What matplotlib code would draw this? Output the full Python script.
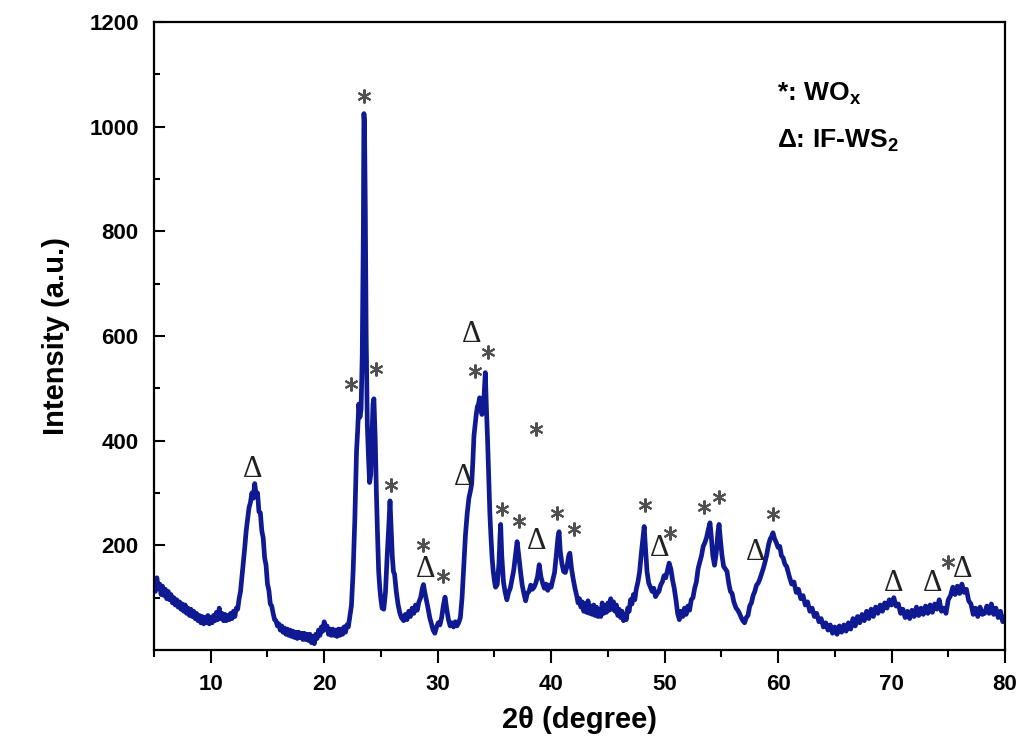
import matplotlib
matplotlib.use("Agg")
import matplotlib.pyplot as plt
from matplotlib.ticker import MultipleLocator, FixedLocator

# XRD scan, region by region: (2theta in degree, intensity in a.u.)
scan_05_13 = [
    (5.0, 130), (5.125, 112), (5.25, 138), (5.375, 118), (5.5, 126), (5.625, 106), (5.75, 122),
    (5.875, 104), (6.0, 116), (6.125, 98), (6.25, 112), (6.375, 96), (6.5, 106), (6.625, 90),
    (6.75, 100), (6.875, 86), (7.0, 96), (7.125, 82), (7.25, 92), (7.375, 78), (7.5, 88),
    (7.625, 74), (7.75, 86), (7.875, 70), (8.0, 80), (8.125, 66), (8.25, 78), (8.375, 64),
    (8.5, 74), (8.625, 60), (8.75, 70), (8.875, 56), (9.0, 66), (9.125, 52), (9.25, 64),
    (9.375, 50), (9.5, 62), (9.625, 52), (9.75, 66), (9.875, 50), (10.0, 62), (10.125, 52),
    (10.25, 66), (10.375, 56), (10.5, 72), (10.625, 58), (10.75, 80), (10.875, 60), (11.0, 70),
    (11.125, 56), (11.25, 68), (11.375, 56), (11.5, 66), (11.625, 58), (11.75, 70), (11.875, 60),
    (12.0, 74), (12.125, 64), (12.25, 80), (12.375, 78), (12.5, 98),
]
scan_13_16 = [
    (12.625, 112), (12.75, 140), (12.875, 168), (13.0, 196), (13.125, 228), (13.25, 250),
    (13.375, 272), (13.5, 282), (13.625, 300), (13.75, 290), (13.875, 318), (14.0, 296),
    (14.125, 300), (14.25, 264), (14.375, 262), (14.5, 228), (14.625, 214), (14.75, 176),
    (14.875, 162), (15.0, 126), (15.125, 114), (15.25, 88), (15.375, 84),
]
scan_16_22 = [
    (15.5, 70), (15.625, 58), (15.75, 56), (15.875, 46), (16.0, 50), (16.125, 38), (16.25, 46),
    (16.375, 34), (16.5, 42), (16.625, 30), (16.75, 40), (16.875, 28), (17.0, 38), (17.125, 26),
    (17.25, 36), (17.375, 24), (17.5, 34), (17.625, 22), (17.75, 34), (17.875, 24), (18.0, 32),
    (18.125, 20), (18.25, 32), (18.375, 20), (18.5, 30), (18.625, 18), (18.75, 30), (18.875, 14),
    (19.0, 26), (19.125, 12), (19.25, 30), (19.375, 22), (19.5, 38), (19.625, 28), (19.75, 44),
    (19.875, 36), (20.0, 54), (20.125, 40), (20.25, 46), (20.375, 30), (20.5, 40), (20.625, 28),
    (20.75, 40), (20.875, 28), (21.0, 38), (21.125, 26), (21.25, 40), (21.375, 28), (21.5, 40),
    (21.625, 30), (21.75, 44), (21.875, 34), (22.0, 48), (22.125, 44), (22.25, 62),
]
scan_22_27 = [
    (22.4, 85), (22.55, 150), (22.7, 250), (22.85, 380), (22.95, 420), (23.05, 470), (23.15, 445),
    (23.25, 460), (23.35, 560), (23.45, 800), (23.5, 1025), (23.55, 1010), (23.62, 850),
    (23.7, 600), (23.8, 430), (23.9, 370), (24.0, 320), (24.1, 335), (24.2, 400), (24.3, 470),
    (24.38, 480), (24.5, 400), (24.6, 300), (24.7, 220), (24.8, 150), (24.9, 118), (25.0, 96),
    (25.1, 80), (25.25, 78), (25.4, 110), (25.55, 180), (25.7, 240), (25.8, 285), (25.9, 230),
    (26.0, 180), (26.1, 150), (26.2, 145), (26.35, 112), (26.5, 88), (26.65, 72), (26.8, 62),
]
scan_27_42 = [
    (27.0, 56), (27.15, 68), (27.3, 58), (27.45, 74), (27.6, 64), (27.75, 80), (27.9, 70),
    (28.05, 86), (28.2, 76), (28.35, 92), (28.5, 100), (28.65, 118), (28.75, 125), (28.85, 112),
    (29.0, 96), (29.15, 80), (29.3, 62), (29.45, 50), (29.6, 38), (29.75, 32), (29.9, 44),
    (30.05, 52), (30.2, 48), (30.35, 62), (30.5, 85), (30.65, 101), (30.8, 78), (30.95, 58),
    (31.1, 46), (31.25, 52), (31.4, 44), (31.55, 54), (31.7, 46), (31.85, 52), (32.0, 62),
    (32.15, 100), (32.3, 160), (32.45, 220), (32.6, 260), (32.75, 290), (32.9, 305), (33.0, 318),
    (33.1, 360), (33.2, 410), (33.3, 430), (33.4, 450), (33.5, 465), (33.6, 470), (33.7, 482),
    (33.8, 460), (33.9, 450), (34.0, 455), (34.1, 490), (34.2, 530), (34.3, 460), (34.4, 400),
    (34.5, 330), (34.6, 260), (34.7, 215), (34.8, 175), (34.9, 150), (35.0, 132), (35.1, 120),
    (35.25, 125), (35.4, 165), (35.5, 220), (35.55, 240), (35.65, 180), (35.8, 130), (35.95, 110),
    (36.1, 96), (36.25, 110), (36.4, 118), (36.55, 135), (36.7, 152), (36.85, 180), (37.0, 207),
    (37.15, 180), (37.3, 150), (37.45, 124), (37.6, 108), (37.75, 94), (37.9, 108), (38.05, 112),
    (38.2, 124), (38.35, 116), (38.5, 120), (38.65, 128), (38.8, 140), (38.95, 163), (39.1, 140),
    (39.25, 128), (39.4, 118), (39.55, 126), (39.7, 114), (39.85, 124), (40.0, 120), (40.15, 134),
    (40.3, 148), (40.45, 180), (40.6, 215), (40.7, 226), (40.8, 190), (40.95, 165), (41.1, 150),
    (41.25, 148), (41.4, 160), (41.55, 180), (41.65, 185), (41.8, 155), (41.95, 135), (42.1, 118),
]
scan_42_48 = [
    (42.25, 104), (42.375, 90), (42.5, 98), (42.625, 82), (42.75, 92), (42.875, 74), (43.0, 88),
    (43.125, 72), (43.25, 94), (43.375, 70), (43.5, 84), (43.625, 68), (43.75, 86), (43.875, 66),
    (44.0, 82), (44.125, 64), (44.25, 78), (44.375, 64), (44.5, 90), (44.625, 70), (44.75, 84),
    (44.875, 72), (45.0, 90), (45.125, 76), (45.25, 98), (45.375, 78), (45.5, 92), (45.625, 74),
    (45.75, 86), (45.875, 66), (46.0, 78), (46.125, 62), (46.25, 74), (46.375, 56), (46.5, 66),
    (46.625, 58), (46.75, 80), (46.875, 74), (47.0, 96), (47.125, 88), (47.25, 106),
    (47.375, 96), (47.5, 116),
]
scan_48_61 = [
    (47.65, 130), (47.8, 150), (47.95, 185), (48.1, 215), (48.2, 236), (48.3, 200), (48.45, 150),
    (48.6, 128), (48.75, 120), (48.9, 112), (49.05, 118), (49.2, 102), (49.35, 108), (49.5, 112),
    (49.65, 124), (49.8, 130), (49.95, 142), (50.1, 138), (50.25, 152), (50.4, 166), (50.55, 155),
    (50.7, 134), (50.85, 118), (51.0, 96), (51.15, 70), (51.3, 58), (51.45, 74), (51.6, 64),
    (51.75, 80), (51.9, 68), (52.05, 84), (52.2, 76), (52.35, 96), (52.5, 100), (52.65, 118),
    (52.8, 130), (52.95, 155), (53.1, 168), (53.25, 180), (53.4, 198), (53.55, 205), (53.7, 215),
    (53.85, 230), (54.0, 243), (54.1, 220), (54.25, 180), (54.4, 162), (54.55, 185), (54.7, 225),
    (54.8, 240), (54.9, 215), (55.05, 182), (55.2, 160), (55.35, 155), (55.5, 150), (55.65, 128),
    (55.8, 112), (55.95, 108), (56.1, 92), (56.3, 80), (56.45, 76), (56.6, 70), (56.75, 62),
    (56.9, 56), (57.05, 52), (57.2, 62), (57.35, 66), (57.5, 84), (57.65, 90), (57.8, 104),
    (57.95, 112), (58.1, 124), (58.25, 128), (58.4, 136), (58.55, 146), (58.7, 156), (58.85, 168),
    (59.0, 182), (59.15, 200), (59.3, 212), (59.45, 218), (59.55, 224), (59.7, 212), (59.85, 205),
    (60.0, 196), (60.15, 198), (60.3, 180), (60.45, 176), (60.6, 164), (60.75, 160), (60.9, 148),
]
scan_61_80 = [
    (61.0, 140), (61.2, 126), (61.4, 130), (61.6, 110), (61.8, 116), (62.0, 98), (62.2, 104),
    (62.4, 86), (62.6, 92), (62.8, 74), (63.0, 80), (63.2, 64), (63.4, 70), (63.6, 54), (63.8, 60),
    (64.0, 44), (64.2, 52), (64.4, 38), (64.6, 48), (64.8, 32), (65.0, 44), (65.2, 30), (65.4, 46),
    (65.6, 34), (65.8, 48), (66.0, 36), (66.2, 52), (66.4, 40), (66.6, 60), (66.8, 46), (67.0, 64),
    (67.2, 52), (67.4, 68), (67.6, 56), (67.8, 74), (68.0, 60), (68.2, 78), (68.4, 64), (68.6, 82),
    (68.8, 70), (69.0, 86), (69.2, 74), (69.4, 90), (69.6, 80), (69.8, 96), (70.0, 86), (70.2, 100),
    (70.4, 84), (70.6, 88), (70.8, 70), (71.0, 78), (71.2, 62), (71.4, 74), (71.6, 60), (71.8, 76),
    (72.0, 64), (72.2, 82), (72.4, 66), (72.6, 80), (72.8, 68), (73.0, 84), (73.2, 70), (73.4, 86),
    (73.6, 72), (73.8, 88), (74.0, 78), (74.2, 96), (74.4, 74), (74.6, 80), (74.8, 70), (75.0, 96),
    (75.2, 104), (75.4, 120), (75.6, 106), (75.8, 122), (76.0, 108), (76.2, 126), (76.4, 110),
    (76.6, 116), (76.8, 94), (77.0, 88), (77.2, 68), (77.4, 80), (77.6, 64), (77.8, 82), (78.0, 68),
    (78.2, 70), (78.4, 84), (78.6, 70), (78.8, 88), (79.0, 68), (79.2, 80), (79.4, 62), (79.6, 74),
    (79.8, 54), (80.0, 62),
]

# peak labels: WOx (*) and IF-WS2 (delta), at (2theta, label height)
wox_x = [22.4, 23.55, 24.6, 25.9, 28.7, 30.5, 33.25, 34.4, 35.7, 37.2, 38.7,
         40.5, 42.0, 48.25, 50.5, 53.5, 54.8, 59.55, 75.0]
wox_y = [508, 1058, 537, 316, 200, 142, 533, 570, 270, 246, 422,
         261, 231, 278, 224, 274, 293, 259, 169]
ws2_x = [13.65, 32.95, 32.3, 28.9, 38.7, 49.6, 58.0, 70.2, 73.6, 76.3]
ws2_y = [345, 603, 330, 153, 207, 194, 186, 128, 128, 153]

scan = (scan_05_13 + scan_13_16 + scan_16_22 + scan_22_27 + scan_27_42
        + scan_42_48 + scan_48_61 + scan_61_80)
two_theta = [p[0] for p in scan]
intensity = [p[1] for p in scan]

plt.rcParams['font.family'] = ['Liberation Sans', 'DejaVu Sans']
plt.rcParams['font.weight'] = 'bold'
plt.rcParams['mathtext.fontset'] = 'custom'
plt.rcParams['mathtext.rm'] = 'Liberation Sans:bold'
plt.rcParams['mathtext.it'] = 'Liberation Sans:bold'
plt.rcParams['mathtext.bf'] = 'Liberation Sans:bold'

fig = plt.figure(figsize=(10.24, 7.53), dpi=100)
ax = fig.add_axes([154 / 1024, 1 - 650 / 753, 851 / 1024, 628 / 753])

ax.plot(two_theta, intensity, color='#0f1a92', linewidth=3.4)

# peak markers
ax.plot(wox_x, wox_y, linestyle='none', marker=(6, 2, 0), markersize=10,
        markeredgewidth=1.5, color='#505050')
for x, y in zip(ws2_x, ws2_y):
    ax.text(x, y, '\u0394', fontsize=22, family='Liberation Serif', fontweight='normal',
            ha='center', va='center', color='#222222')

# legend text
ax.text(0.732, 0.874, '*: WO$_\\mathrm{x}$', transform=ax.transAxes, fontsize=19,
        fontweight='bold', ha='left', va='baseline')
ax.text(0.732, 0.799, '\u0394: IF-WS$_\\mathrm{2}$', transform=ax.transAxes, fontsize=19,
        fontweight='bold', ha='left', va='baseline')

ax.set_xlim(5, 80)
ax.set_ylim(0, 1200)
ax.xaxis.set_major_locator(MultipleLocator(10))
ax.xaxis.set_minor_locator(MultipleLocator(5))
ax.yaxis.set_major_locator(FixedLocator([200, 400, 600, 800, 1000, 1200]))
ax.yaxis.set_minor_locator(FixedLocator([100, 300, 500, 700, 900, 1100]))

ax.tick_params(axis='x', which='major', direction='out', length=9, width=1.5,
               labelsize=16, pad=8)
ax.tick_params(axis='x', which='minor', direction='out', length=5, width=1.5)
ax.tick_params(axis='y', which='major', direction='in', length=8, width=1.5,
               labelsize=16, pad=11)
ax.tick_params(axis='y', which='minor', direction='in', length=4, width=1.5)
for s in ax.spines.values():
    s.set_linewidth(1.6)

ax.set_xlabel('2\u03b8 (degree)', fontsize=21, fontweight='bold', labelpad=8)
ax.set_ylabel('Intensity (a.u.)', fontsize=21, fontweight='bold', labelpad=14)

fig.savefig('out.png', dpi=100)
